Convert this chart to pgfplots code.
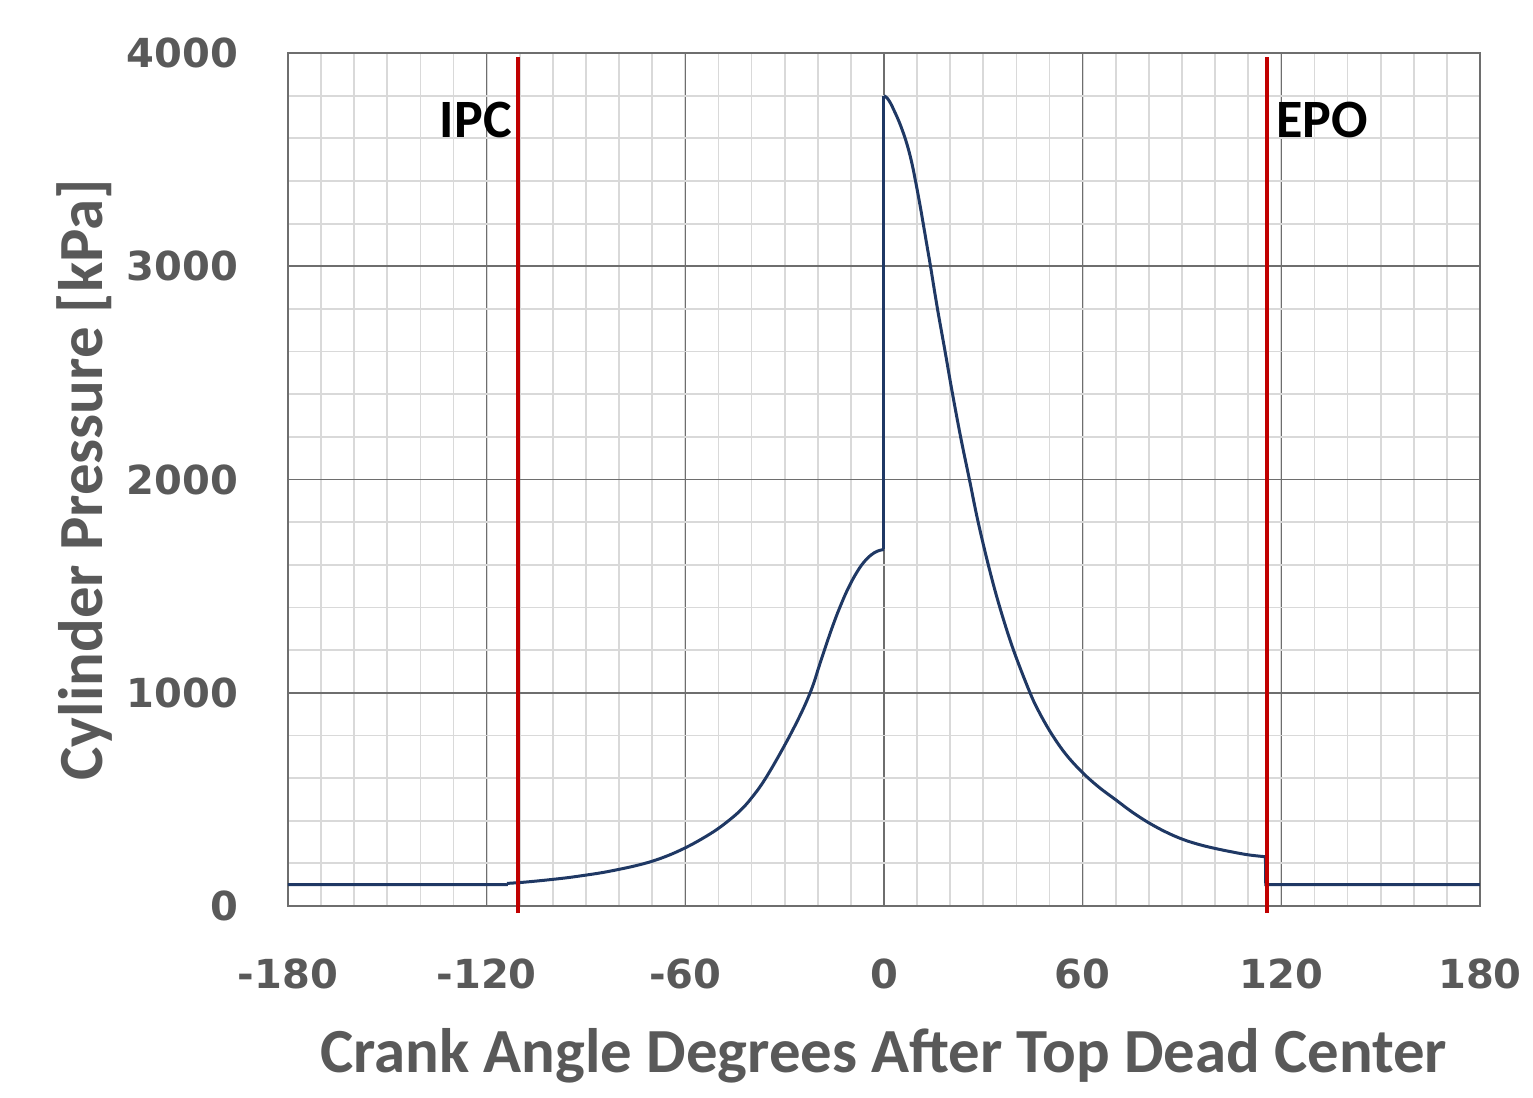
\documentclass[border=0pt]{standalone}
\usepackage{fontspec}
\setmainfont{Carlito}
\newfontfamily\dejavu{DejaVu Sans}
\usepackage{pgfplots}
\pgfplotsset{compat=1.18}
\definecolor{lblgray}{HTML}{595959}
\definecolor{majgrid}{HTML}{6E6E6E}
\definecolor{mingrid}{HTML}{D9D9D9}
\definecolor{curve}{HTML}{1F3864}
\definecolor{redline}{HTML}{C00000}
\begin{document}
\begin{tikzpicture}
\useasboundingbox (-72pt,-47.75pt) rectangle (311.25pt,226.5pt);
\begin{axis}[
 at={(0,0)}, anchor=south west,
 scale only axis, width=298pt, height=213.25pt,
 xmin=-180, xmax=180, ymin=0, ymax=4000,
 xtick={-180,-120,-60,0,60,120,180}, xticklabels={-180,-120,-60,0,60,120,180},
 ytick={0,1000,2000,3000,4000}, yticklabels={0,1000,2000,3000,4000},
 minor xtick={-170,-160,...,170}, minor ytick={200,400,...,3800},
 grid=both,
 major grid style={majgrid, line width=0.4pt},
 minor grid style={mingrid, line width=0.45pt},
 major tick length=0pt, minor tick length=0pt,
 axis line style={majgrid, line width=0.4pt},
 tick label style={font=\dejavu\bfseries\fontsize{10}{12}\selectfont, text=lblgray},
 xticklabel style={yshift=-9.7pt},
 yticklabel style={xshift=-9.0pt},
 xlabel={Crank Angle Degrees After Top Dead Center},
 ylabel={Cylinder Pressure [kPa]},
 label style={font=\bfseries\fontsize{15.7}{18}\selectfont, text=lblgray},
 xlabel style={at={(axis description cs:0.5,-0.1946)}, anchor=base},
 ylabel style={at={(axis description cs:-0.1552,0.5)}, anchor=base},
 clip=false,
]
% intake baseline and step at valve closure
\addplot[curve, line width=0.75pt] coordinates {(-180,100) (-114,100) (-113.9,106)};
% compression
\addplot[curve, line width=0.75pt, smooth, tension=0.6] coordinates {
(-113.9,106) (-110,110) (-105,117) (-100,125) (-95,134) (-90,145) (-85,157) (-80,172)
(-75,189) (-70,210) (-65,238) (-60,273) (-55,315) (-50,364) (-45,425) (-42,470) (-40,507)
(-38,547) (-36,593) (-34,644) (-32,698) (-30,754) (-28,812) (-26,873) (-24,938)
(-22.3,1000) (-21,1055) (-20,1105) (-19,1153) (-18,1200) (-17,1246) (-16,1291) (-15,1334)
(-14,1375) (-13,1413) (-12,1450) (-11,1484) (-10,1515) (-9,1544) (-8,1570) (-7,1594)
(-6,1614) (-5,1631) (-4,1645) (-3,1656) (-2,1664) (-1,1669) (0,1672)
};
% combustion jump
\addplot[curve, line width=0.75pt] coordinates {(0,1672) (0,3800)};
% expansion
\addplot[curve, line width=0.75pt, smooth, tension=0.6] coordinates {
(0,3800) (1,3788) (2,3764) (3,3732) (4.5,3680) (6,3618) (7.3,3553) (8.5,3478) (9.7,3385)
(10.9,3285) (11.9,3195) (13,3095) (14.1,2995) (16.1,2805) (18.4,2605) (20.6,2410)
(23.2,2195) (25.8,2000) (28.3,1810) (31.5,1600) (34.8,1410) (39,1205) (44.1,1000)
(47,905) (50.7,805) (55,710) (60,625) (65,556) (70,498) (75,440) (80,390) (85,348)
(90,314) (95,289) (100,270) (105,254) (110,240) (115.2,231)
};
% exhaust blowdown and baseline
\addplot[curve, line width=0.75pt] coordinates {(115.2,231) (115.3,100) (180,100)};
\addplot[redline, line width=1.1pt] coordinates {(-110.5,-33) (-110.5,3980)};
\addplot[redline, line width=1.1pt] coordinates {(115.7,-33) (115.7,3980)};
\node[anchor=base east, inner sep=0pt, font=\bfseries\fontsize{13.5}{16}\selectfont] at (axis cs:-112.2,3603) {IPC};
\node[anchor=base west, inner sep=0pt, font=\bfseries\fontsize{13.5}{16}\selectfont] at (axis cs:118.2,3603) {EPO};
\end{axis}
\end{tikzpicture}
\end{document}
